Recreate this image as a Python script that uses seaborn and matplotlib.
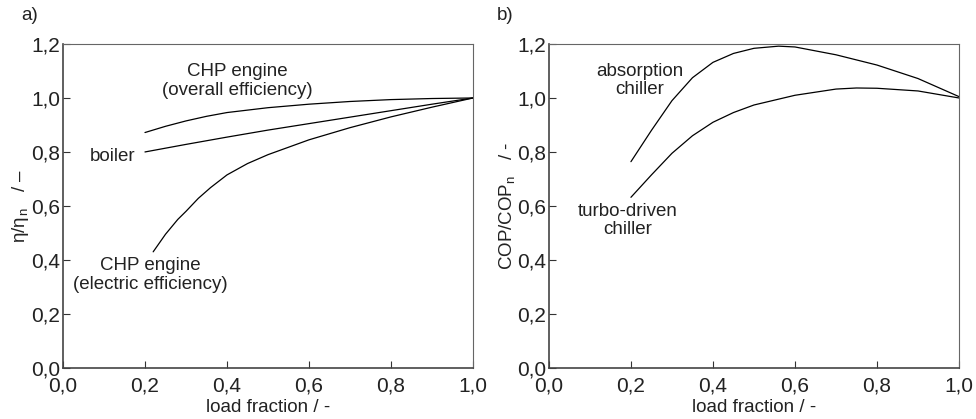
import numpy as np
import pandas as pd
import matplotlib
matplotlib.use("Agg")
import matplotlib.pyplot as plt
import seaborn as sns

# values (load fraction -> relative efficiency)
x_overall = [0.2, 0.25, 0.3, 0.35, 0.4, 0.5, 0.6, 0.7, 0.8, 0.9, 1.0]
y_overall = [0.872, 0.895, 0.915, 0.932, 0.946, 0.964, 0.977, 0.987, 0.994, 0.998, 1.0]

x_boiler = [0.2, 0.3, 0.4, 0.5, 0.6, 0.7, 0.8, 0.9, 1.0]
y_boiler = [0.80, 0.828, 0.855, 0.881, 0.905, 0.929, 0.953, 0.977, 1.0]

x_electric = [0.22, 0.25, 0.28, 0.3, 0.33, 0.36, 0.4, 0.45, 0.5, 0.6, 0.7, 0.8, 0.9, 1.0]
y_electric = [0.43, 0.495, 0.55, 0.58, 0.628, 0.668, 0.715, 0.757, 0.79, 0.845, 0.89, 0.93, 0.966, 1.0]

x_absorption = [0.2, 0.25, 0.3, 0.35, 0.4, 0.45, 0.5, 0.56, 0.6, 0.7, 0.8, 0.9, 1.0]
y_absorption = [0.764, 0.88, 0.99, 1.075, 1.132, 1.165, 1.184, 1.192, 1.189, 1.16, 1.122, 1.072, 1.005]

x_turbo = [0.2, 0.25, 0.3, 0.35, 0.4, 0.45, 0.5, 0.6, 0.7, 0.75, 0.8, 0.9, 1.0]
y_turbo = [0.632, 0.715, 0.795, 0.86, 0.91, 0.946, 0.974, 1.01, 1.033, 1.037, 1.036, 1.026, 1.0]

xticks = [0.0, 0.2, 0.4, 0.6, 0.8, 1.0]
yticks = [0.0, 0.2, 0.4, 0.6, 0.8, 1.0, 1.2]

sns.set_theme(style="ticks")
plt.rcParams['font.family'] = ['Liberation Sans', 'DejaVu Sans']
plt.rcParams['mathtext.fontset'] = 'custom'
plt.rcParams['mathtext.rm'] = 'Liberation Sans'
plt.rcParams['mathtext.it'] = 'Liberation Sans'

TXT = "#222222"
FS = 13.5
TICK_FS = 15

fig, axes = plt.subplots(1, 2, figsize=(9.76, 4.19), dpi=100)
fig.subplots_adjust(left=0.0645, right=0.9826, top=0.895, bottom=0.122, wspace=0.185)

def comma(v):
    return f"{v:.1f}".replace(".", ",")

def style_axis(ax):
    ax.set_xlim(0, 1.0)
    ax.set_ylim(0, 1.2)
    ax.set_xticks(xticks)
    ax.set_yticks(yticks)
    ax.set_xticklabels([comma(v) for v in xticks])
    ax.set_yticklabels([comma(v) for v in yticks])
    ax.tick_params(direction="in", length=5, width=0.8, colors="#333333",
                   labelsize=TICK_FS, labelcolor=TXT, pad=2)
    ax.tick_params(axis="x", pad=6)
    for s in ["left", "bottom"]:
        ax.spines[s].set_color("#444444")
        ax.spines[s].set_linewidth(1.2)
    for s in ["top", "right"]:
        ax.spines[s].set_color("#666666")
        ax.spines[s].set_linewidth(0.8)
    ax.set_xlabel("load fraction / -", fontsize=FS, color=TXT, labelpad=3)

ax = axes[0]
for xs, ys in [(x_overall, y_overall), (x_boiler, y_boiler), (x_electric, y_electric)]:
    sns.lineplot(x=xs, y=ys, ax=ax, color="black", linewidth=0.9, sort=False)
style_axis(ax)
ax.set_ylabel(r"$\eta/\eta_{\,\mathrm{n}}$   / –", fontsize=FS, color=TXT, labelpad=0)
ax.text(0.425, 1.063, "CHP engine\n(overall efficiency)", ha="center", va="center",
        fontsize=FS, color=TXT, linespacing=1.1)
ax.text(0.122, 0.783, "boiler", ha="center", va="center", fontsize=FS, color=TXT)
ax.text(0.212, 0.344, "CHP engine\n(electric efficiency)", ha="center", va="center",
        fontsize=FS, color=TXT, linespacing=1.1)
fig.text(0.022, 0.962, "a)", fontsize=FS, color=TXT, va="center")

ax = axes[1]
for xs, ys in [(x_absorption, y_absorption), (x_turbo, y_turbo)]:
    sns.lineplot(x=xs, y=ys, ax=ax, color="black", linewidth=0.9, sort=False)
style_axis(ax)
ax.set_ylabel(r"COP/COP$_{\mathrm{n}}$   / -", fontsize=FS, color=TXT, labelpad=0)
ax.text(0.222, 1.065, "absorption\nchiller", ha="center", va="center",
        fontsize=FS, color=TXT, linespacing=1.1)
ax.text(0.193, 0.546, "turbo-driven\nchiller", ha="center", va="center",
        fontsize=FS, color=TXT, linespacing=1.1)
fig.text(0.509, 0.962, "b)", fontsize=FS, color=TXT, va="center")

fig.savefig("out.png", dpi=100)
